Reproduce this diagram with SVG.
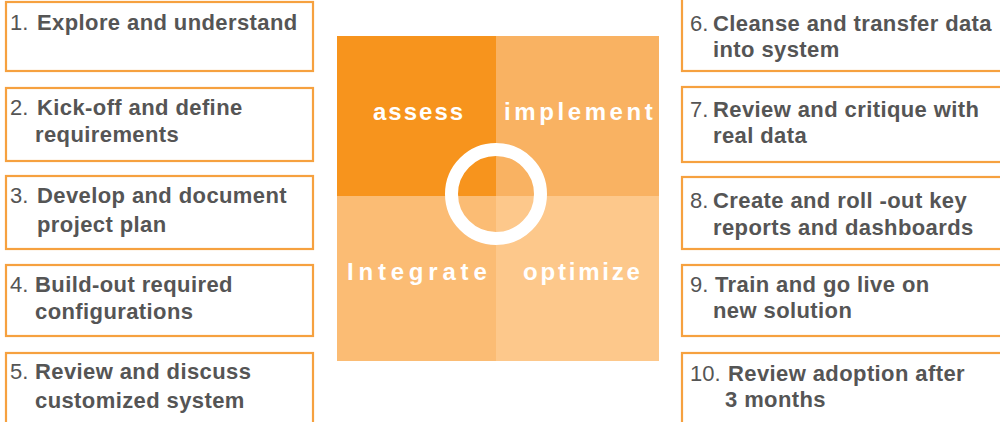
<svg xmlns="http://www.w3.org/2000/svg" width="1000" height="422" viewBox="0 0 1000 422">
<style>
.box{fill:#fff;stroke:#F6A13F;stroke-width:2.2}
.t{font-family:"Liberation Sans",Arial,sans-serif;font-size:22px;fill:#555;font-weight:bold;letter-spacing:0.4px}
.n{font-weight:normal;letter-spacing:0}
.q{font-family:"Liberation Sans",Arial,sans-serif;font-size:24px;fill:#fff;font-weight:bold}
</style>
<rect width="1000" height="422" fill="#fff"/>
<g id="cycle">
<rect x="337" y="36" width="159" height="160" fill="#F7941D"/>
<rect x="496" y="36" width="163" height="160" fill="#F9B262"/>
<rect x="337" y="196" width="159" height="165" fill="#FBBC74"/>
<rect x="496" y="196" width="163" height="165" fill="#FDC88B"/>
<circle cx="496" cy="194" r="44.5" fill="none" stroke="#fff" stroke-width="13"/>
<text class="q" x="373" y="120" style="letter-spacing:2px">assess</text>
<text class="q" x="504" y="120" style="letter-spacing:3.6px">implement</text>
<text class="q" x="347" y="280" style="letter-spacing:4.8px">Integrate</text>
<text class="q" x="523" y="280" style="letter-spacing:2.8px">optimize</text>
</g>
<g id="step1"><rect class="box" x="6" y="2" width="307" height="69"/>
<text class="t" x="10" y="30"><tspan class="n">1.</tspan><tspan x="37">Explore and understand</tspan></text></g>
<g id="step2"><rect class="box" x="6" y="88" width="307" height="73"/>
<text class="t" x="10" y="115"><tspan class="n">2.</tspan><tspan x="37">Kick-off and define</tspan><tspan x="35" y="142">requirements</tspan></text></g>
<g id="step3"><rect class="box" x="6" y="176" width="307" height="73"/>
<text class="t" x="10" y="203"><tspan class="n">3.</tspan><tspan x="37">Develop and document</tspan><tspan x="37" y="232">project plan</tspan></text></g>
<g id="step4"><rect class="box" x="6" y="265" width="307" height="71"/>
<text class="t" x="10" y="292"><tspan class="n">4.</tspan><tspan x="35">Build-out required</tspan><tspan x="35" y="319">configurations</tspan></text></g>
<g id="step5"><rect class="box" x="6" y="353" width="307" height="80"/>
<text class="t" x="10" y="379"><tspan class="n">5.</tspan><tspan x="35">Review and discuss</tspan><tspan x="35" y="408">customized system</tspan></text></g>
<g id="step6"><rect class="box" x="682" y="-5" width="330" height="76"/>
<text class="t" x="690" y="31"><tspan class="n">6.</tspan><tspan x="713">Cleanse and transfer data</tspan><tspan x="713" y="57">into system</tspan></text></g>
<g id="step7"><rect class="box" x="682" y="87" width="330" height="75"/>
<text class="t" x="690" y="117"><tspan class="n">7.</tspan><tspan x="713">Review and critique with</tspan><tspan x="713" y="143">real data</tspan></text></g>
<g id="step8"><rect class="box" x="682" y="177" width="330" height="72"/>
<text class="t" x="690" y="208"><tspan class="n">8.</tspan><tspan x="713">Create and roll -out key</tspan><tspan x="713" y="235">reports and dashboards</tspan></text></g>
<g id="step9"><rect class="box" x="682" y="265" width="330" height="71"/>
<text class="t" x="690" y="292"><tspan class="n">9.</tspan><tspan x="715">Train and go live on</tspan><tspan x="713" y="318">new solution</tspan></text></g>
<g id="step10"><rect class="box" x="682" y="353" width="330" height="80"/>
<text class="t" x="690" y="381"><tspan class="n">10.</tspan><tspan x="728">Review adoption after</tspan><tspan x="725" y="407">3 months</tspan></text></g>
<g id="connectors"/>
</svg>
